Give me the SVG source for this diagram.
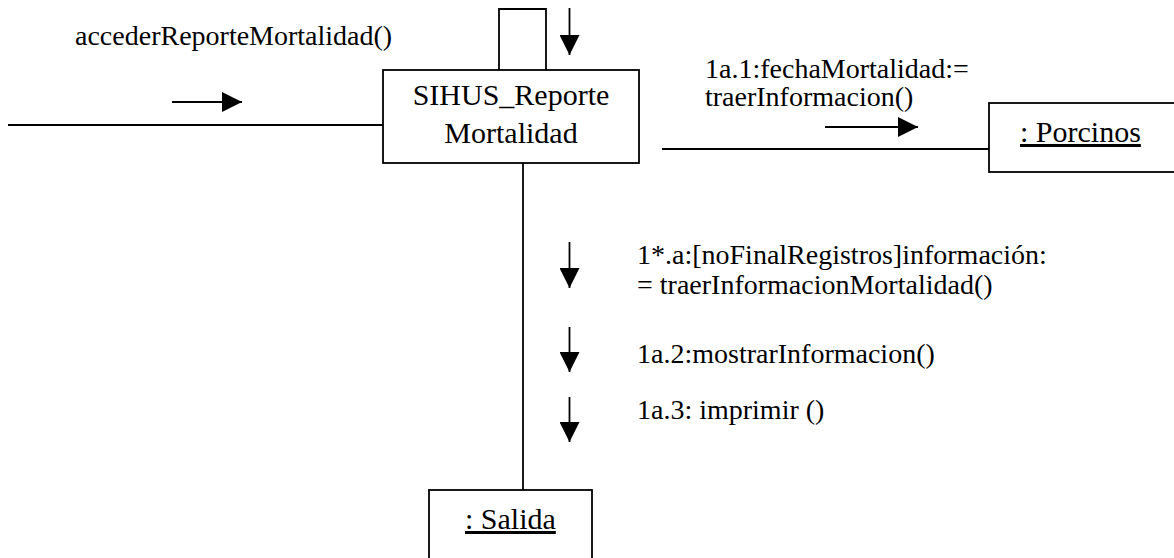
<svg xmlns="http://www.w3.org/2000/svg" width="1174" height="558" viewBox="0 0 1174 558">
<style>
.ln{stroke:#000;stroke-width:1.8;fill:none}
.box{stroke:#000;stroke-width:1.8;fill:#fff}
.lbl{font-family:"Liberation Serif","Times New Roman",Tinos,"DejaVu Serif",serif;font-size:28px;fill:#000}
.nd{font-family:"Liberation Serif","Times New Roman",Tinos,"DejaVu Serif",serif;font-size:30px;fill:#000}
</style>
<defs>
<marker id="ah" viewBox="0 0 20 20" refX="20" refY="10" markerWidth="20" markerHeight="20" markerUnits="userSpaceOnUse" orient="auto">
<path d="M0,0 L20,10 L0,20 Z" fill="#000"/>
</marker>
</defs>
<rect width="1174" height="558" fill="#fff"/>
<g id="connectors">
<line class="ln" x1="8" y1="125" x2="383" y2="125"/>
<path class="ln" d="M499,70 V9 H546 V70"/>
<line class="ln" x1="662" y1="149" x2="989" y2="149"/>
<line class="ln" x1="523" y1="163" x2="523" y2="490"/>
</g>
<g id="messages">
<line class="ln" x1="172" y1="102" x2="242" y2="102" marker-end="url(#ah)"/>
<line class="ln" x1="569.5" y1="8" x2="569.5" y2="55" marker-end="url(#ah)"/>
<line class="ln" x1="825" y1="127" x2="918" y2="127" marker-end="url(#ah)"/>
<line class="ln" x1="569.5" y1="242" x2="569.5" y2="288" marker-end="url(#ah)"/>
<line class="ln" x1="569.5" y1="327" x2="569.5" y2="372" marker-end="url(#ah)"/>
<line class="ln" x1="569.5" y1="397" x2="569.5" y2="442" marker-end="url(#ah)"/>
<text class="lbl" x="75" y="45">accederReporteMortalidad()</text>
<text class="lbl" x="705" y="78">1a.1:fechaMortalidad:=</text>
<text class="lbl" x="705" y="106">traerInformacion()</text>
<text class="lbl" x="637" y="264">1*.a:[noFinalRegistros]información:</text>
<text class="lbl" x="637" y="294">= traerInformacionMortalidad()</text>
<text class="lbl" x="637" y="363">1a.2:mostrarInformacion()</text>
<text class="lbl" x="637" y="419">1a.3: imprimir ()</text>
</g>
<g id="node-reporte">
<rect class="box" x="383" y="70" width="256" height="93"/>
<text class="nd" x="511" y="105" text-anchor="middle">SIHUS_Reporte</text>
<text class="nd" x="511" y="143" text-anchor="middle">Mortalidad</text>
</g>
<g id="node-porcinos">
<rect class="box" x="989" y="103" width="200" height="69"/>
<text class="nd" x="1020" y="142" text-decoration="underline">: Porcinos</text>
</g>
<g id="node-salida">
<rect class="box" x="429" y="490" width="163" height="80"/>
<text class="nd" x="465" y="529" text-decoration="underline">: Salida</text>
</g>
</svg>
